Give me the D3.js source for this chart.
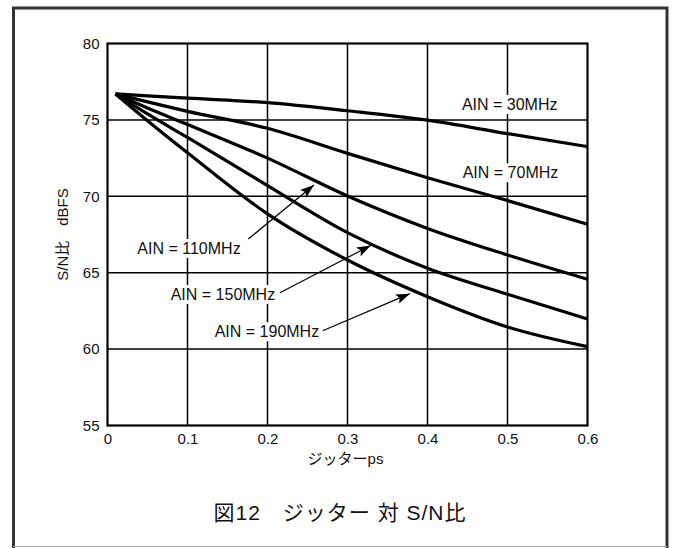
<!DOCTYPE html>
<html><head><meta charset="utf-8">
<script src="https://cdn.jsdelivr.net/npm/d3@7"></script>
<style>
html,body{margin:0;padding:0;background:#fff;}
svg{display:block;}
text{font-family:"Liberation Sans","Noto Sans CJK JP",Arial,sans-serif;fill:#111;}
</style></head>
<body>
<script>
// ---- data ----
const jitter = [0.01, 0.05, 0.1, 0.2, 0.3, 0.4, 0.5, 0.6];
const snr30  = [76.7, 76.57, 76.42, 76.13, 75.6, 74.98, 74.1, 73.25];
const snr70  = [76.7, 76.18, 75.56, 74.45, 72.81, 71.22, 69.72, 68.17];
const snr110 = [76.7, 75.78, 74.7, 72.5, 70.02, 67.9, 66.16, 64.57];
const snr150 = [76.7, 75.39, 73.85, 70.7, 67.62, 65.29, 63.59, 61.97];
const snr190 = [76.7, 74.95, 72.85, 68.85, 65.83, 63.43, 61.45, 60.16];
const seriesNames = ["AIN = 30MHz","AIN = 70MHz","AIN = 110MHz","AIN = 150MHz","AIN = 190MHz"];
const xTicks = [0, 0.1, 0.2, 0.3, 0.4, 0.5, 0.6];
const yTicks = [55, 60, 65, 70, 75, 80];
const xTitle = "ジッターps";
const yTitle = "S/N比　dBFS";
const chartTitle = "図12　ジッター 対 S/N比";
// label anchors (data space) and arrows (tail -> tip, data space)
const labelX = [0.443, 0.444, 0.0373, 0.079, 0.134];
const labelY = [75.65, 71.18, 66.22, 63.21, 60.77];
const arrowFrom = [null, null, [0.176, 67.2], [0.2156, 63.69], [0.269, 61.2]];
const arrowTo   = [null, null, [0.258, 70.74], [0.329, 66.78], [0.378, 63.63]];

const W = 674, H = 548;
const svg = d3.select("body").append("svg").attr("width", W).attr("height", H);

// outer border
svg.append("path")
  .attr("d", `M13.5,${H} L13.5,8 L667,8 L667,${H}`)
  .attr("fill","none").attr("stroke","#333").attr("stroke-width",3);
svg.append("line").attr("x1",13).attr("x2",667).attr("y1",546.5).attr("y2",546.5)
  .attr("stroke","#aaa").attr("stroke-width",1);

const x = d3.scaleLinear().domain([0, 0.6]).range([107.5, 587.5]);
const y = d3.scaleLinear().domain([55, 80]).range([425.5, 43.5]);

// grid
const g = svg.append("g");
g.selectAll("line.vg").data(xTicks.slice(1, -1)).enter().append("line")
  .attr("x1", d => x(d)).attr("x2", d => x(d)).attr("y1", y(55)).attr("y2", y(80))
  .attr("stroke","#000").attr("stroke-width",1.5);
g.selectAll("line.hg").data(yTicks.slice(1, -1)).enter().append("line")
  .attr("y1", d => y(d)).attr("y2", d => y(d)).attr("x1", x(0)).attr("x2", x(0.6))
  .attr("stroke","#000").attr("stroke-width",1.5);

// axes labels (no tick marks)
const xAxis = svg.append("g").attr("transform", `translate(0,${y(55)})`)
  .call(d3.axisBottom(x).tickValues(xTicks).tickSize(0).tickPadding(8).tickFormat(d3.format("")));
const yAxis = svg.append("g").attr("transform", `translate(${x(0)},0)`)
  .call(d3.axisLeft(y).tickValues(yTicks).tickSize(0).tickPadding(8));
[xAxis, yAxis].forEach(a => {
  a.select(".domain").remove();
  a.selectAll("text").attr("font-size", 15).attr("fill","#111")
    .attr("font-family", '"Liberation Sans",Arial,sans-serif');
});

// frame
svg.append("rect").attr("x", x(0)).attr("y", y(80))
  .attr("width", x(0.6) - x(0)).attr("height", y(55) - y(80))
  .attr("fill","none").attr("stroke","#000").attr("stroke-width",2.2);

// label backgrounds + labels
const labels = svg.append("g");
seriesNames.forEach((name, i) => {
  const t = labels.append("text").attr("x", x(labelX[i])).attr("y", y(labelY[i]))
    .attr("font-size", 16).text(name);
  const bb = t.node().getBBox();
  labels.insert("rect", "text").attr("x", bb.x - 3).attr("y", bb.y - 1)
    .attr("width", bb.width + 6).attr("height", bb.height + 2).attr("fill","#fff");
});

// curves
const all = [snr30, snr70, snr110, snr150, snr190];
const line = d3.line().x((d, i) => x(jitter[i])).y(d => y(d)).curve(d3.curveMonotoneX);
svg.append("g").selectAll("path").data(all).enter().append("path")
  .attr("d", line).attr("fill","none").attr("stroke","#000").attr("stroke-width",3.2);

// arrows
const defs = svg.append("defs");
defs.append("marker").attr("id","ah").attr("viewBox","0 0 14 10").attr("refX",14).attr("refY",5)
  .attr("markerWidth",14).attr("markerHeight",10).attr("markerUnits","userSpaceOnUse")
  .attr("orient","auto")
  .append("path").attr("d","M0,0 L14,5 L0,10 L3,5 Z").attr("fill","#000");
arrowFrom.forEach((f, i) => {
  if (!f) return;
  const t = arrowTo[i];
  svg.append("line").attr("x1", x(f[0])).attr("y1", y(f[1])).attr("x2", x(t[0])).attr("y2", y(t[1]))
    .attr("stroke","#000").attr("stroke-width",1.2).attr("marker-end","url(#ah)");
});

// titles
svg.append("text").attr("x", (x(0) + x(0.6)) / 2 - 2).attr("y", 464)
  .attr("text-anchor","middle").attr("font-size", 15).text(xTitle);
svg.append("text").attr("transform", `translate(68,${(y(55) + y(80)) / 2}) rotate(-90)`)
  .attr("text-anchor","middle").attr("font-size", 15).text(yTitle);
svg.append("text").attr("x", 340).attr("y", 520)
  .attr("text-anchor","middle").attr("font-size", 21).attr("letter-spacing", 1).text(chartTitle);
</script>
</body></html>
